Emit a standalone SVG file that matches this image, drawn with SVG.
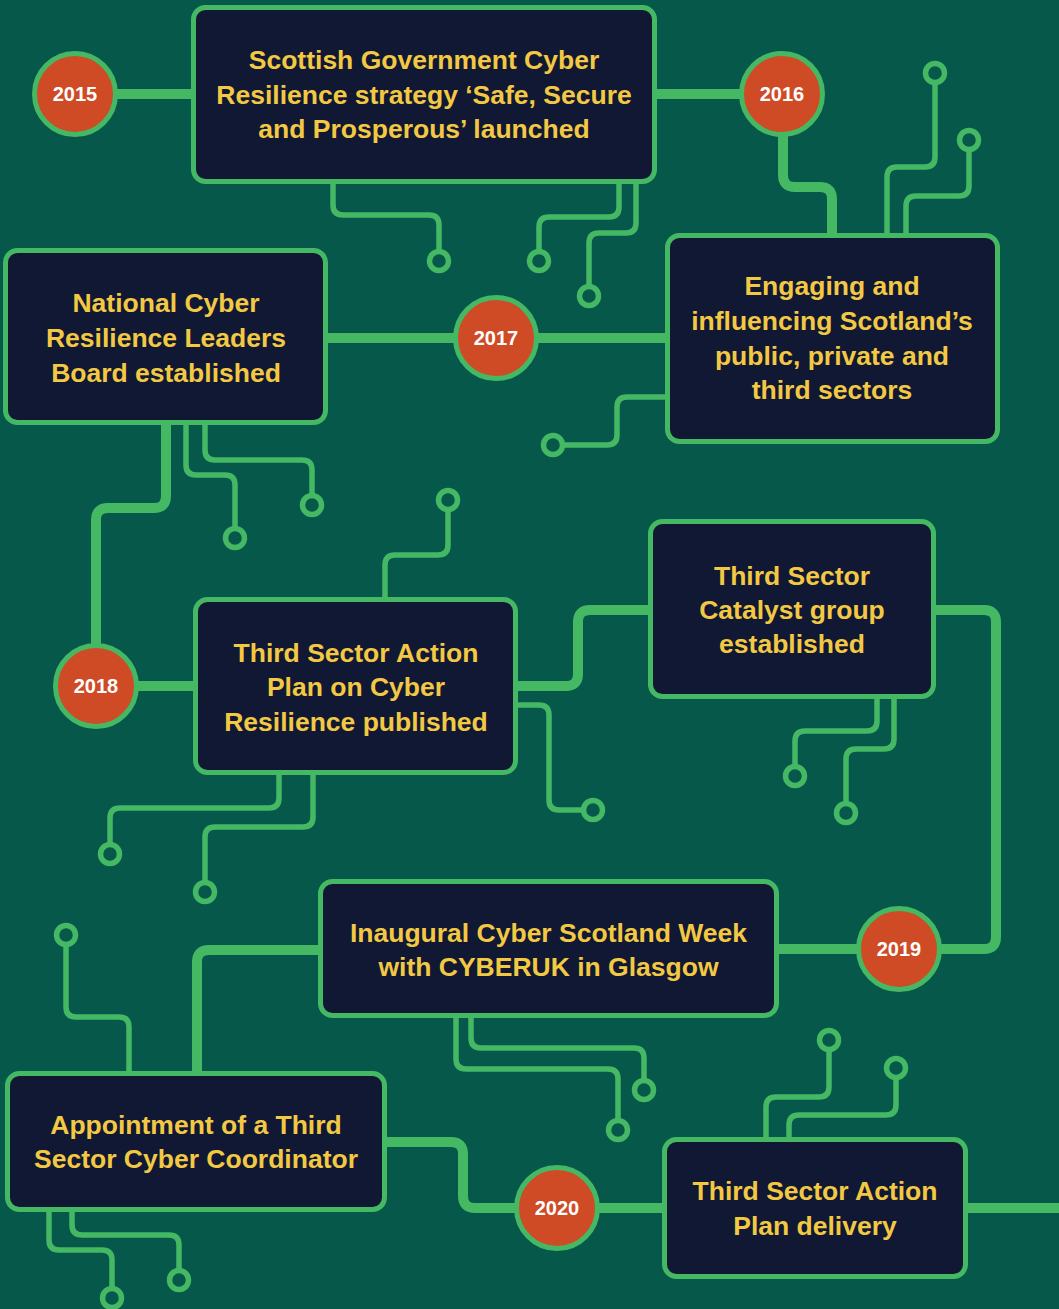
<svg xmlns="http://www.w3.org/2000/svg" width="1059" height="1309" viewBox="0 0 1059 1309">
<style>
.bg{fill:#06584A}
.thick{fill:none;stroke:#45B864;stroke-width:10;stroke-linejoin:round}
.thin{fill:none;stroke:#45B864;stroke-width:5.5}
.pin{fill:#06584A;stroke:#45B864;stroke-width:5.5}
.box{fill:#101833;stroke:#45B864;stroke-width:5}
.yr{fill:#CF4B26;stroke:#45B864;stroke-width:5}
.t{font-family:"Liberation Sans",Arial,sans-serif;font-weight:bold;font-size:26.5px;fill:#F3C843;text-anchor:middle}
.y{font-family:"Liberation Sans",Arial,sans-serif;font-weight:bold;font-size:20px;fill:#FFFFFF;text-anchor:middle}
</style>
<rect class="bg" x="0" y="0" width="1059" height="1309"/>
<g id="connectors">
<path class="thick" d="M75 94 H200"/>
<path class="thick" d="M650 94 H782"/>
<path class="thick" d="M783 94 V175 Q783 187 795 187 H820 Q832 187 832 199 V240"/>
<path class="thick" d="M300 338 H680"/>
<path class="thick" d="M166 420 V496 Q166 508 154 508 H108 Q96 508 96 520 V686"/>
<path class="thick" d="M96 686 H200"/>
<path class="thick" d="M510 686 H566 Q578 686 578 674 V622 Q578 610 590 610 H655"/>
<path class="thick" d="M930 610 H984 Q996 610 996 622 V937 Q996 949 984 949 H770"/>
<path class="thick" d="M325 950 H209 Q197 950 197 962 V1080"/>
<path class="thick" d="M380 1142 H451 Q463 1142 463 1154 V1196 Q463 1208 475 1208 H670"/>
<path class="thick" d="M960 1208 H1059"/>
<path class="thin" d="M333 180 V205 Q333 215 343 215 H429 Q439 215 439 225 V251"/>
<path class="thin" d="M619 180 V207 Q619 217 609 217 H549 Q539 217 539 227 V251"/>
<path class="thin" d="M636 180 V223 Q636 233 626 233 H599 Q589 233 589 243 V286"/>
<path class="thin" d="M887 240 V177 Q887 167 897 167 H925 Q935 167 935 157 V83"/>
<path class="thin" d="M906 240 V206 Q906 196 916 196 H959 Q969 196 969 186 V150"/>
<path class="thin" d="M670 397 H627 Q617 397 617 407 V435 Q617 445 607 445 H563"/>
<path class="thin" d="M186 420 V465 Q186 475 196 475 H225 Q235 475 235 485 V528"/>
<path class="thin" d="M205 420 V450 Q205 460 215 460 H302 Q312 460 312 470 V495"/>
<path class="thin" d="M448 510 V545 Q448 555 438 555 H395 Q385 555 385 565 V605"/>
<path class="thin" d="M279 770 V798 Q279 808 269 808 H120 Q110 808 110 818 V844"/>
<path class="thin" d="M313 770 V817 Q313 827 303 827 H215 Q205 827 205 837 V882"/>
<path class="thin" d="M510 705 H539 Q549 705 549 715 V800 Q549 810 559 810 H583"/>
<path class="thin" d="M877 695 V721 Q877 731 867 731 H805 Q795 731 795 741 V766"/>
<path class="thin" d="M894 695 V739 Q894 749 884 749 H856 Q846 749 846 759 V803"/>
<path class="thin" d="M456 1015 V1059 Q456 1069 466 1069 H608 Q618 1069 618 1079 V1120"/>
<path class="thin" d="M471 1015 V1038 Q471 1048 481 1048 H634 Q644 1048 644 1058 V1080"/>
<path class="thin" d="M66 945 V1007 Q66 1017 76 1017 H119 Q129 1017 129 1027 V1080"/>
<path class="thin" d="M49 1208 V1240 Q49 1250 59 1250 H102 Q112 1250 112 1260 V1288"/>
<path class="thin" d="M72 1208 V1225 Q72 1235 82 1235 H169 Q179 1235 179 1245 V1270"/>
<path class="thin" d="M766 1142 V1107 Q766 1097 776 1097 H819 Q829 1097 829 1087 V1050"/>
<path class="thin" d="M789 1142 V1125 Q789 1115 799 1115 H886 Q896 1115 896 1105 V1078"/>
<circle class="pin" cx="439" cy="261" r="9.5"/>
<circle class="pin" cx="539" cy="261" r="9.5"/>
<circle class="pin" cx="589" cy="296" r="9.5"/>
<circle class="pin" cx="935" cy="73" r="9.5"/>
<circle class="pin" cx="969" cy="140" r="9.5"/>
<circle class="pin" cx="553" cy="445" r="9.5"/>
<circle class="pin" cx="235" cy="538" r="9.5"/>
<circle class="pin" cx="312" cy="505" r="9.5"/>
<circle class="pin" cx="448" cy="500" r="9.5"/>
<circle class="pin" cx="110" cy="854" r="9.5"/>
<circle class="pin" cx="205" cy="892" r="9.5"/>
<circle class="pin" cx="593" cy="810" r="9.5"/>
<circle class="pin" cx="795" cy="776" r="9.5"/>
<circle class="pin" cx="846" cy="813" r="9.5"/>
<circle class="pin" cx="618" cy="1130" r="9.5"/>
<circle class="pin" cx="644" cy="1090" r="9.5"/>
<circle class="pin" cx="66" cy="935" r="9.5"/>
<circle class="pin" cx="112" cy="1298" r="9.5"/>
<circle class="pin" cx="179" cy="1280" r="9.5"/>
<circle class="pin" cx="829" cy="1040" r="9.5"/>
<circle class="pin" cx="896" cy="1068" r="9.5"/>
</g>
<g id="y2015"><circle class="yr" cx="75" cy="94" r="40.5"/><text class="y" x="75" y="101">2015</text></g>
<g id="y2016"><circle class="yr" cx="782" cy="94" r="40.5"/><text class="y" x="782" y="101">2016</text></g>
<g id="y2017"><circle class="yr" cx="496" cy="338" r="40.5"/><text class="y" x="496" y="345">2017</text></g>
<g id="y2018"><circle class="yr" cx="96" cy="686" r="40.5"/><text class="y" x="96" y="693">2018</text></g>
<g id="y2019"><circle class="yr" cx="899" cy="949" r="40.5"/><text class="y" x="899" y="956">2019</text></g>
<g id="y2020"><circle class="yr" cx="557" cy="1208" r="40.5"/><text class="y" x="557" y="1215">2020</text></g>
<g id="boxA"><rect class="box" x="193.5" y="7.5" width="461" height="174" rx="12"/>
<text class="t" x="424" y="69">Scottish Government Cyber</text>
<text class="t" x="424" y="104">Resilience strategy ‘Safe, Secure</text>
<text class="t" x="424" y="138">and Prosperous’ launched</text></g>
<g id="boxB"><rect class="box" x="667.5" y="235.5" width="330" height="206" rx="12"/>
<text class="t" x="832" y="295">Engaging and</text>
<text class="t" x="832" y="330">influencing Scotland’s</text>
<text class="t" x="832" y="364.5">public, private and</text>
<text class="t" x="832" y="399">third sectors</text></g>
<g id="boxC"><rect class="box" x="5.5" y="250.5" width="320" height="172" rx="12"/>
<text class="t" x="166" y="312">National Cyber</text>
<text class="t" x="166" y="347">Resilience Leaders</text>
<text class="t" x="166" y="381.5">Board established</text></g>
<g id="boxD"><rect class="box" x="195.5" y="599.5" width="320" height="173" rx="12"/>
<text class="t" x="356" y="661.5">Third Sector Action</text>
<text class="t" x="356" y="696">Plan on Cyber</text>
<text class="t" x="356" y="730.5">Resilience published</text></g>
<g id="boxE"><rect class="box" x="650.5" y="521.5" width="283" height="175" rx="12"/>
<text class="t" x="792" y="585">Third Sector</text>
<text class="t" x="792" y="619">Catalyst group</text>
<text class="t" x="792" y="653">established</text></g>
<g id="boxF"><rect class="box" x="320.5" y="881.5" width="456" height="134" rx="12"/>
<text class="t" x="548.5" y="941.5">Inaugural Cyber Scotland Week</text>
<text class="t" x="548.5" y="976">with CYBERUK in Glasgow</text></g>
<g id="boxG"><rect class="box" x="7.5" y="1073.5" width="377" height="136" rx="12"/>
<text class="t" x="196" y="1133.5">Appointment of a Third</text>
<text class="t" x="196" y="1167.5">Sector Cyber Coordinator</text></g>
<g id="boxH"><rect class="box" x="664.5" y="1139.5" width="301" height="137" rx="12"/>
<text class="t" x="815" y="1200">Third Sector Action</text>
<text class="t" x="815" y="1235">Plan delivery</text></g>
</svg>
